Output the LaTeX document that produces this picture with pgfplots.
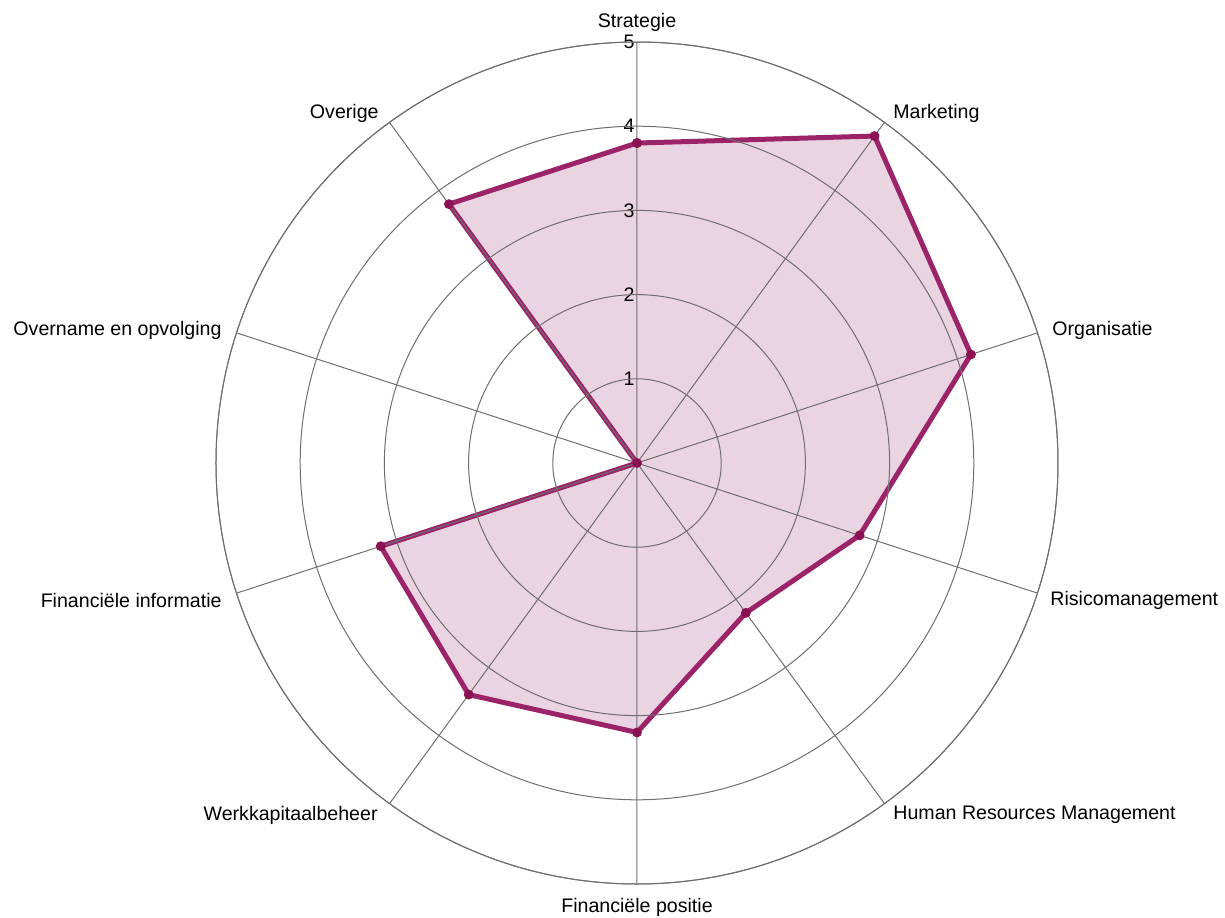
\documentclass[border=0pt]{standalone}
\usepackage{pgfplots}
\pgfplotsset{compat=1.18}
\usepgfplotslibrary{polar}
\usepackage{fontspec}
\setmainfont{Liberation Sans}
\definecolor{fillc}{HTML}{EBD4E1}
\definecolor{linec}{HTML}{9B2468}
\definecolor{markc}{HTML}{8A1253}
\definecolor{gridc}{HTML}{6E6E6E}
\begin{document}
\fontsize{9.8bp}{12bp}\selectfont
\begin{tikzpicture}
\path[use as bounding box] (-318.5bp,-227.5bp) rectangle (294bp,231.5bp);
\begin{polaraxis}[
  at={(0,0)}, anchor=origin,
  scale only axis, width=421bp, height=421bp,
  xmin=0, xmax=360, ymin=0, ymax=5,
  xtick={18,54,90,126,162,198,234,270,306,342},
  ytick={1,2,3,4,5},
  xticklabels={}, yticklabels={},
  major tick length=0pt,
  grid=major,
  major grid style={gridc, line width=0.5bp},
  separate axis lines,
  x axis line style={gridc, line width=0.5bp},
  y axis line style={draw=none},
  axis on top,
  clip=false,
]
\addplot[draw=linec, line width=2.5bp, fill=fillc, fill opacity=1,
  mark=*, mark size=2.2bp, mark options={fill=markc, draw=markc, line width=0.5bp}]
  coordinates {(90,3.8) (54,4.8) (18,4.17) (342,2.78) (306,2.2) (270,3.2) (234,3.4) (198,3.2) (162,0) (126,3.8) (90,3.8)};
\foreach \r in {1,...,5} {
  \edef\tmp{\noexpand\node[anchor=east, inner sep=1bp] at (axis cs:90,\r) {\r};}
  \tmp
}
\end{polaraxis}
\node[anchor=center] at (0bp,220.5bp) {Strategie};
\node[anchor=west, inner sep=0pt] at (128bp,174.8bp) {Marketing};
\node[anchor=west, inner sep=0pt] at (207.5bp,66.5bp) {Organisatie};
\node[anchor=west, inner sep=0pt] at (206.5bp,-68.5bp) {Risicomanagement};
\node[anchor=west, inner sep=0pt] at (128bp,-176bp) {Human Resources Management};
\node[anchor=center, inner sep=0pt] at (0bp,-222bp) {Financiële positie};
\node[anchor=east, inner sep=0pt] at (-129.5bp,-176bp) {Werkkapitaalbeheer};
\node[anchor=east, inner sep=0pt] at (-207.5bp,-68.5bp) {Financiële informatie};
\node[anchor=east, inner sep=0pt] at (-207.5bp,66.5bp) {Overname en opvolging};
\node[anchor=east, inner sep=0pt] at (-129bp,175bp) {Overige};
\end{tikzpicture}
\end{document}
